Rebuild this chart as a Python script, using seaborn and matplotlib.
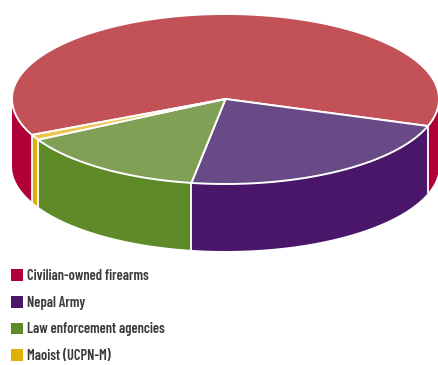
import numpy as np
import matplotlib
matplotlib.use("Agg")
import matplotlib.pyplot as plt
from matplotlib.patches import Patch
import seaborn as sns

categories = ["Civilian-owned firearms", "Nepal Army", "Law enforcement agencies", "Maoist (UCPN-M)"]
shares = [62.1, 22.4, 14.5, 1.0]
side_colors = ["#B10038", "#49166A", "#5E8A28", "#E0B007"]
top_colors = ["#C25257", "#684A86", "#80A056", "#EEC44D"]

sns.set_theme(style="white")
plt.rcParams["font.family"] = ["Barlow Condensed", "Liberation Sans", "DejaVu Sans"]

WIDTH, HEIGHT = 438, 365
CX, CY, RX, RY, DEPTH = 225.5, 99.0, 213.5, 85.0, 67.0
START_DEG = 155.0  # where the civilian slice begins, clockwise on screen

fig = plt.figure(figsize=(WIDTH / 100, HEIGHT / 100), dpi=100)
ax = fig.add_axes([0, 0, 1, 1])
ax.set_xlim(0, WIDTH)
ax.set_ylim(HEIGHT, 0)
ax.axis("off")


def rim(a0, a1):
    t = np.radians(np.linspace(a0, a1, max(int(abs(a1 - a0) * 2), 2)))
    return CX + RX * np.cos(t), CY + RY * np.sin(t)


def draw_wall(a0, a1, color):
    # Only the front half of the disc (sin > 0 on screen) shows a wall.
    a0, a1 = max(a0, 0), min(a1, 180)
    if a1 <= a0:
        return
    x, y = rim(a0, a1)
    ax.fill(np.r_[x, x[::-1]], np.r_[y, y[::-1] + DEPTH], color=color, lw=0, zorder=2)


edges = START_DEG + np.r_[0, np.cumsum(shares)] / sum(shares) * 360

# Walls: a slice may wrap past a full turn, so test it shifted by 0 and by -360.
for a0, a1, color in zip(edges[:-1], edges[1:], side_colors):
    draw_wall(a0, a1, color)
    draw_wall(a0 - 360, a1 - 360, color)

# White seams down the wall at each slice boundary on the visible side.
for a in edges[:-1]:
    a = a % 360
    if 0 < a < 180:
        x, y = rim(a, a + 0.01)
        ax.plot([x[0], x[0]], [y[0], y[0] + DEPTH], color="white", lw=1.3, zorder=3)

# Top face of each slice.
for a0, a1, color in zip(edges[:-1], edges[1:], top_colors):
    x, y = rim(a0, a1)
    ax.fill(np.r_[CX, x], np.r_[CY, y], facecolor=color, edgecolor="white",
            lw=1.4, joinstyle="round", zorder=4)

handles = [Patch(facecolor=c, edgecolor="none") for c in side_colors]
legend = ax.legend(
    handles, categories, loc="upper left", bbox_to_anchor=(11 / WIDTH, 1 - 269 / HEIGHT),
    bbox_transform=ax.transAxes, frameon=False, borderpad=0, borderaxespad=0,
    handlelength=0.86, handleheight=0.86, handletextpad=0.25, labelspacing=0.88,
    prop={"size": 10.4, "weight": 600}, labelcolor="#3A3A3C",
)
legend.set_zorder(5)

fig.savefig("out.png", dpi=100)
